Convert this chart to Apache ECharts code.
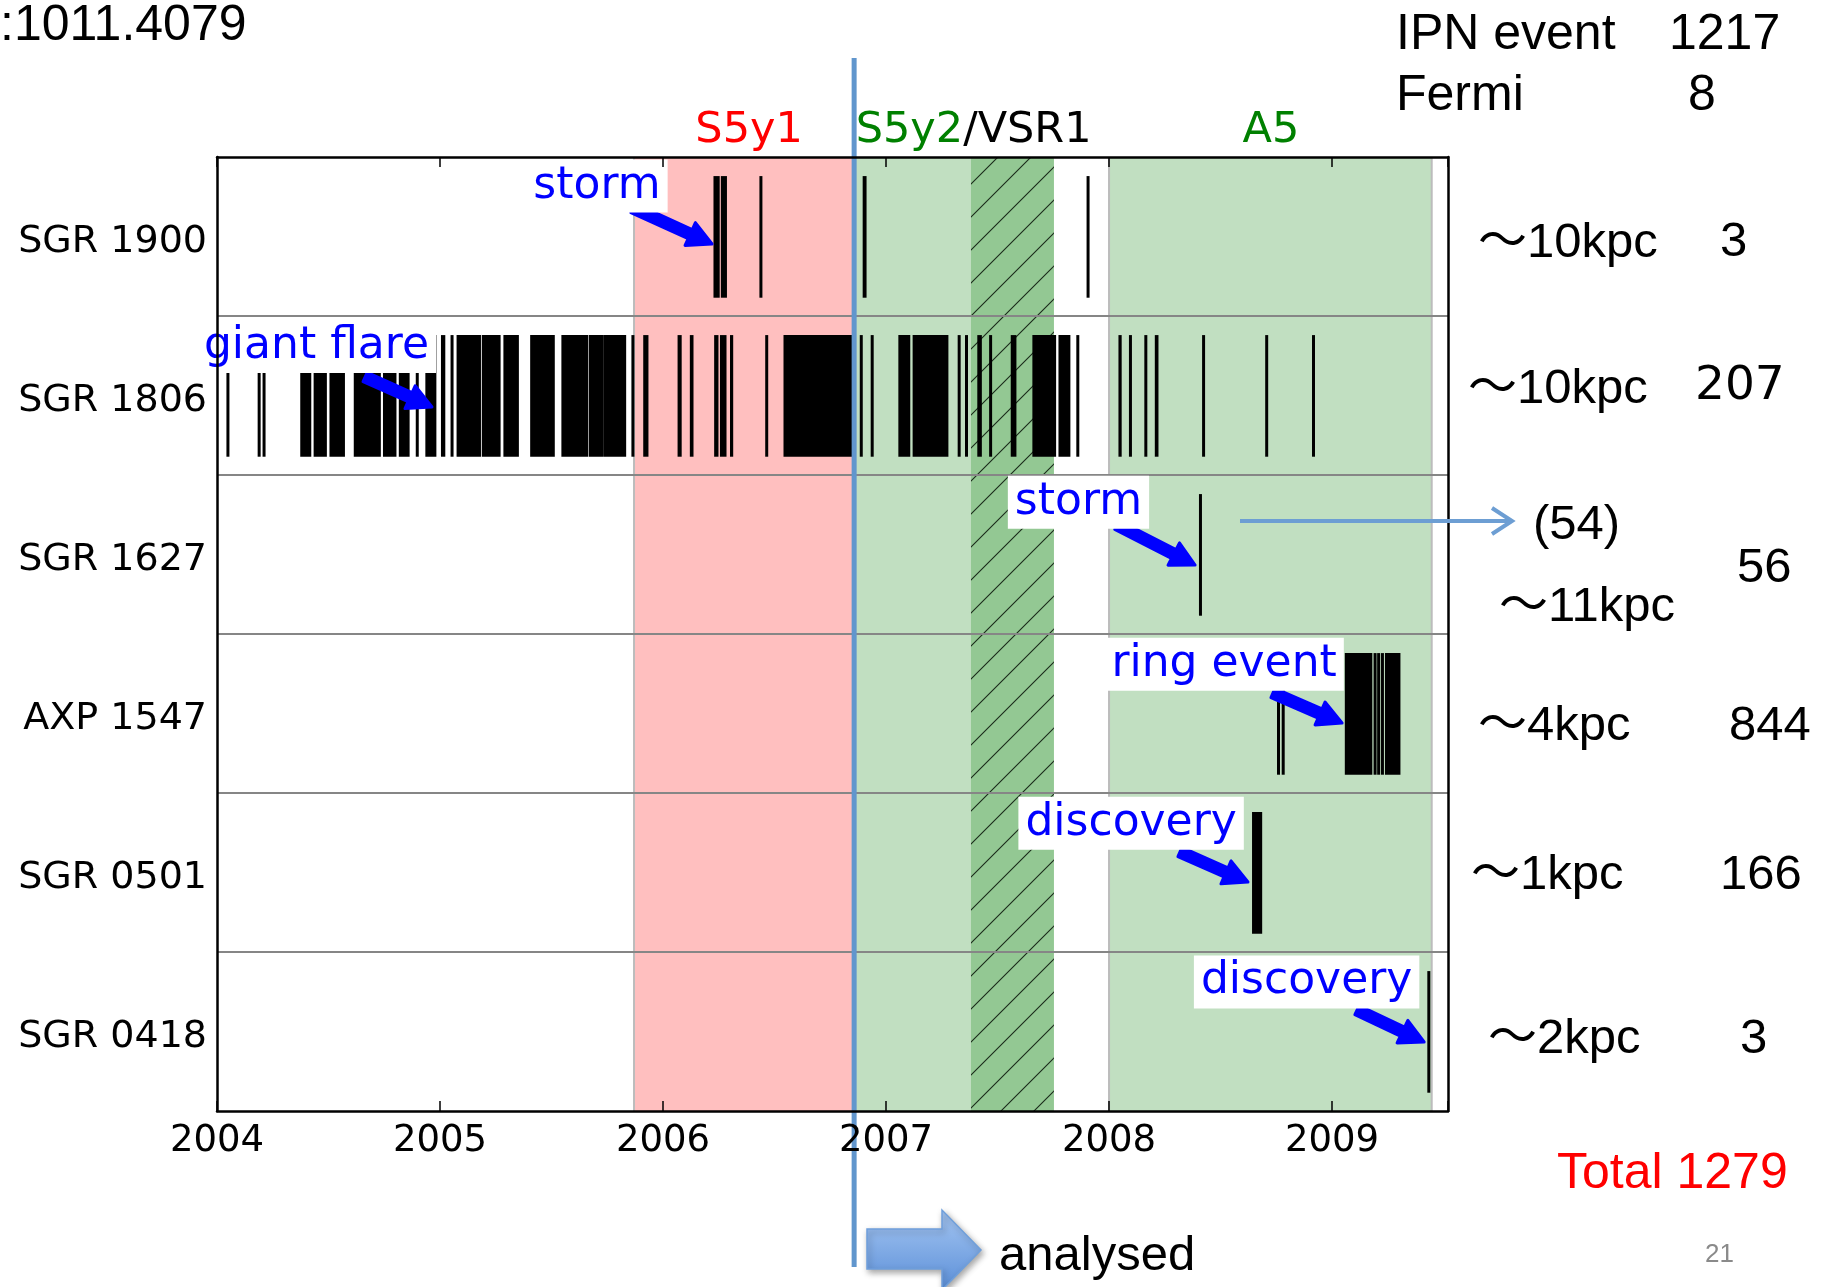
<!DOCTYPE html>
<html><head><meta charset="utf-8">
<script src="https://cdn.jsdelivr.net/npm/echarts@6/dist/echarts.min.js"></script>
<style>html,body{margin:0;padding:0;background:#fff;overflow:hidden}#c{width:1831px;height:1287px}</style>
</head><body><div id="c"></div><script>
// ---------------- data ----------------
const sources = ['SGR 1900', 'SGR 1806', 'SGR 1627', 'AXP 1547', 'SGR 0501', 'SGR 0418'];
const xMin = 2004, xMax = 2009.52, xInterval = 1;

// events: single year value = thin burst line, [start, end] = dense burst interval
const sgr1900Events = [[2006.233, 2006.2475], [2006.266, 2006.280], 2006.439, [2006.902, 2006.906], 2007.906];
const sgr1806Events = [
  2004.049, 2004.189, 2004.211,
  [2004.380, 2004.416], [2004.440, 2004.486], [2004.511, 2004.567],
  [2004.620, 2004.728], [2004.751, 2004.798], [2004.822, 2004.857],
  2004.898, [2004.941, 2004.977], [2005.011, 2005.017], 2005.054,
  [2005.081, 2005.177], [2005.194, 2005.265], [2005.291, 2005.347],
  [2005.411, 2005.508], [2005.551, 2005.658], [2005.674, 2005.728], [2005.742, 2005.828],
  2005.865, [2005.918, 2005.928], [2006.072, 2006.077], [2006.127, 2006.130],
  [2006.236, 2006.242], [2006.262, 2006.278], [2006.307, 2006.308], 2006.465,
  [2006.547, 2006.841], 2006.889, 2006.938,
  [2007.062, 2007.102], [2007.126, 2007.273], 2007.328, 2007.361,
  [2007.416, 2007.423], 2007.469, [2007.566, 2007.578],
  [2007.663, 2007.756], [2007.780, 2007.820], 2007.860,
  [2008.049, 2008.050], 2008.096, 2008.165, [2008.212, 2008.215],
  2008.424, 2008.707, 2008.917
];
const sgr1627Events = [2008.410];
const axp1547Events = [2008.760, 2008.781, [2009.064, 2009.174], 2009.193, 2009.209, 2009.226, [2009.244, 2009.300]];
const sgr0501Events = [[2008.648, 2008.680]];
const sgr0418Events = [2009.434];

// science runs
const spanNames = ['S5y1', 'S5y2', 'VSR1', 'A5'];
const spanStarts = [2005.870, 2006.866, 2007.381, 2008.000];
const spanEnds = [2006.866, 2007.381, 2007.753, 2009.447];
const periodLabels = ['S5y1', 'S5y2/VSR1', 'A5'];
const periodLabelYears = [2006.386, 2007.393, 2008.726];
const analysisStartYear = 2006.857;

// annotations
const annTexts = ['storm', 'giant flare', 'storm', 'ring event', 'discovery', 'discovery'];
const annTextYear = [2005.704, 2004.446, 2007.863, 2008.516, 2008.099, 2008.886];
const annTextRow = [0.183, 1.192, 2.172, 3.191, 4.191, 5.188];
const annTailYear = [2005.865, 2004.664, 2008.036, 2008.735, 2008.318, 2009.112];
const annTailRow = [0.321, 1.384, 2.314, 3.371, 4.371, 5.365];
const annTipYear = [2006.220, 2004.964, 2008.386, 2009.045, 2008.623, 2009.413];
const annTipRow = [0.547, 1.572, 2.566, 3.560, 4.560, 5.566];

// right-hand table
const distances = ['～10kpc', '～10kpc', '～11kpc', '～4kpc', '～1kpc', '～2kpc'];
const counts = ['3', '207', '56', '844', '166', '3'];
const stormCount = '(54)';
const ipnCount = '1217', fermiCount = '8', totalCount = '1279';
const arxivId = ':1011.4079';
const pageNumber = '21';

// ---------------- build ----------------
const allEvents = [sgr1900Events, sgr1806Events, sgr1627Events, axp1547Events, sgr0501Events, sgr0418Events];
const eventData = [];
allEvents.forEach((list, r) => list.forEach(e => {
  const a = Array.isArray(e) ? e[0] : e, b = Array.isArray(e) ? e[1] : e;
  eventData.push([a, b, r]);
}));
const spanData = spanNames.map((n, i) => [spanStarts[i], spanEnds[i], i]);
const annData = annTexts.map((t, i) => [annTextYear[i], annTextRow[i], annTailYear[i], annTailRow[i], annTipYear[i], annTipRow[i], i]);
const dividerData = [1, 2, 3, 4, 5].map(v => [xMin, v]);
const labelData = periodLabels.map((t, i) => [periodLabelYears[i], i]);

// hatch pattern
const hc = document.createElement('canvas');
hc.width = 33; hc.height = 33;
(function () {
  const g = hc.getContext('2d');
  g.fillStyle = '#93c893'; g.fillRect(0, 0, 33, 33);
  g.strokeStyle = '#1a2a1a'; g.lineWidth = 1.1;
  g.beginPath();
  g.moveTo(0, 33); g.lineTo(33, 0);
  g.moveTo(-2, 2); g.lineTo(2, -2);
  g.moveTo(31, 35); g.lineTo(35, 31);
  g.stroke();
})();

const spanFill = { S5y1: '#ffbfbf', S5y2: '#c1dfc1', VSR1: { image: hc, repeat: 'repeat' }, A5: '#c1dfc1' };
const spanEdge = { S5y1: true, S5y2: false, VSR1: false, A5: true };

const DJ = 'DejaVu Sans';
const LS = '"Liberation Sans", Arial, "Noto Sans CJK JP", sans-serif';

function arrowPoly(t, h, w, hw, hl) {
  const dx = h[0] - t[0], dy = h[1] - t[1], L = Math.hypot(dx, dy);
  const ux = dx / L, uy = dy / L, nx = -uy, ny = ux;
  const bx = h[0] - ux * hl, by = h[1] - uy * hl;
  return [[t[0] + nx * w / 2, t[1] + ny * w / 2], [bx + nx * w / 2, by + ny * w / 2], [bx + nx * hw / 2, by + ny * hw / 2],
    [h[0], h[1]], [bx - nx * hw / 2, by - ny * hw / 2], [bx - nx * w / 2, by - ny * w / 2], [t[0] - nx * w / 2, t[1] - ny * w / 2]];
}
function txt(x, y, text, font, fill) {
  return { type: 'text', x, y, z: 100, style: { text, font, fill: fill || '#000', textVerticalAlign: 'middle', verticalAlign: 'middle' } };
}

const chart = echarts.init(document.getElementById('c'), null, { renderer: 'canvas' });
const xAxisBase = {
  type: 'value', min: xMin, max: xMax, interval: xInterval, z: 10,
  axisLine: { show: true, onZero: false, lineStyle: { color: '#000', width: 2.5 } },
  axisTick: { show: true, inside: true, length: 10, lineStyle: { color: '#000', width: 1.5 } },
  splitLine: { show: false }
};
chart.setOption({
  animation: false,
  backgroundColor: '#fff',
  grid: { left: 217, top: 157, width: 1231, height: 954, containLabel: false },
  xAxis: [
    Object.assign({}, xAxisBase, {
      position: 'bottom',
      axisLabel: { show: true, fontFamily: DJ, fontSize: 37, color: '#000', margin: 11.5,
        formatter: v => (Math.abs(v - Math.round(v)) < 1e-6 ? String(Math.round(v)) : '') }
    }),
    Object.assign({}, xAxisBase, { position: 'top', axisLabel: { show: false } })
  ],
  yAxis: [
    { type: 'category', data: sources, inverse: true, position: 'left', z: 10,
      axisLine: { show: true, lineStyle: { color: '#000', width: 2.5 } },
      axisTick: { show: false }, splitLine: { show: false },
      axisLabel: { fontFamily: DJ, fontSize: 38, color: '#000', margin: 10,
        formatter: v => '{a|' + v + '}',
        rich: { a: { fontFamily: DJ, fontSize: 38, color: '#000', padding: [11, 0, 0, 0] } } } },
    { type: 'value', min: 0, max: 6, inverse: true, position: 'right', z: 10,
      axisLine: { show: true, lineStyle: { color: '#000', width: 2.5 } },
      axisTick: { show: false }, axisLabel: { show: false }, splitLine: { show: false } }
  ],
  series: [
    { // observing runs
      type: 'custom', name: 'runs', xAxisIndex: 0, yAxisIndex: 1, z: 1, silent: true,
      data: spanData,
      renderItem(params, api) {
        const name = spanNames[api.value(2)];
        const p0 = api.coord([api.value(0), 0]), p1 = api.coord([api.value(1), 6]);
        const x0 = Math.min(p0[0], p1[0]), y0 = Math.min(p0[1], p1[1]);
        const w = Math.abs(p1[0] - p0[0]), h = Math.abs(p1[1] - p0[1]);
        const children = [{ type: 'rect', shape: { x: x0, y: y0, width: w, height: h }, style: { fill: spanFill[name] } }];
        if (spanEdge[name]) {
          [x0, x0 + w].forEach(xx => children.push({ type: 'line', shape: { x1: xx, y1: y0, x2: xx, y2: y0 + h },
            style: { stroke: '#bcbcbc', lineWidth: 2 } }));
        }
        return { type: 'group', children };
      }
    },
    { // row dividers
      type: 'custom', name: 'dividers', xAxisIndex: 0, yAxisIndex: 1, z: 2, silent: true,
      data: dividerData,
      renderItem(params, api) {
        const a = api.coord([xMin, api.value(1)]), b = api.coord([xMax, api.value(1)]);
        return { type: 'line', shape: { x1: a[0], y1: a[1], x2: b[0], y2: b[1] }, style: { stroke: '#868686', lineWidth: 2 } };
      }
    },
    { // bursts
      type: 'custom', name: 'events', xAxisIndex: 0, yAxisIndex: 1, z: 3, silent: true,
      data: eventData,
      renderItem(params, api) {
        const r = api.value(2);
        const p0 = api.coord([api.value(0), r + 0.12]), p1 = api.coord([api.value(1), r + 0.885]);
        const y0 = Math.min(p0[1], p1[1]);
        return { type: 'rect', shape: { x: p0[0] - 1.5, y: y0, width: p1[0] - p0[0] + 3, height: Math.abs(p1[1] - p0[1]) },
          style: { fill: '#000' } };
      }
    },
    { // analysis start line
      type: 'custom', name: 'analysed', xAxisIndex: 0, yAxisIndex: 1, z: 6, silent: true, clip: false,
      data: [[analysisStartYear, 0]],
      renderItem(params, api) {
        const cs = params.coordSys;
        const p = api.coord([api.value(0), 0]);
        return { type: 'line', shape: { x1: p[0], y1: cs.y - 99, x2: p[0], y2: cs.y + cs.height + 156 },
          style: { stroke: '#6196cd', lineWidth: 5 } };
      }
    },
    { // annotations
      type: 'custom', name: 'annotations', xAxisIndex: 0, yAxisIndex: 1, z: 5, silent: true, clip: false,
      data: annData,
      renderItem(params, api) {
        const tp = api.coord([api.value(0), api.value(1)]);
        const tail = api.coord([api.value(2), api.value(3)]);
        const tip = api.coord([api.value(4), api.value(5)]);
        const i = api.value(6);
        return { type: 'group', children: [
          { type: 'polygon', shape: { points: arrowPoly(tail, tip, 10, 25, 24) },
            style: { fill: '#0000ff', stroke: '#0000ff', lineWidth: 3, lineJoin: 'round' } },
          { type: 'text', x: tp[0], y: tp[1],
            style: { text: annTexts[i], fill: '#0000ff', font: '44px "DejaVu Sans"', align: 'center', verticalAlign: 'middle',
              textAlign: 'center', textVerticalAlign: 'middle', backgroundColor: '#ffffff', padding: [3, 7, 4, 7], lineHeight: 46 } }
        ] };
      }
    },
    { // run labels above the frame
      type: 'custom', name: 'runLabels', xAxisIndex: 0, yAxisIndex: 1, z: 5, silent: true, clip: false,
      data: labelData,
      renderItem(params, api) {
        const cs = params.coordSys;
        const p = api.coord([api.value(0), 0]);
        const i = api.value(1);
        const t = periodLabels[i];
        let text = t, rich = null, fill = '#ff0000';
        if (t.indexOf('/') >= 0) {
          const parts = t.split('/');
          text = '{g|' + parts[0] + '}{k|/' + parts[1] + '}';
          rich = { g: { fill: '#008000', font: '43px "DejaVu Sans"' }, k: { fill: '#000000', font: '43px "DejaVu Sans"' } };
        } else if (t === 'A5') fill = '#008000';
        const style = { text, fill, font: '43px "DejaVu Sans"', align: 'center', verticalAlign: 'middle',
          textAlign: 'center', textVerticalAlign: 'middle' };
        if (rich) style.rich = rich;
        return { type: 'text', x: p[0], y: cs.y - 26, style };
      }
    }
  ],
  graphic: [
    txt(0, 26, arxivId, '50px ' + LS),
    txt(1396, 35, 'IPN event', '50px ' + LS),
    txt(1669, 35, ipnCount, '50px ' + LS),
    txt(1396, 96, 'Fermi', '50px ' + LS),
    txt(1688, 96, fermiCount, '50px ' + LS)
  ].concat(
    distances.map((d, r) => txt([1478, 1468, 1499, 1478, 1471, 1488][r], [243, 389, 607, 726, 875, 1039][r], d, '49px ' + LS)),
    counts.map((c, r) => r === 1
      ? txt(1695, 387, c, '47px "DejaVu Sans"')
      : txt([1720, 0, 1737, 1729, 1720, 1740][r], [242, 0, 568, 726, 875, 1039][r], c, '49px ' + LS)),
    [
      txt(1533, 525, stormCount, '49px ' + LS),
      { type: 'line', z: 100, shape: { x1: 1240, y1: 521, x2: 1510, y2: 521 }, style: { stroke: '#6d9ed3', lineWidth: 4 } },
      { type: 'polyline', z: 100, shape: { points: [[1492, 508], [1512, 521], [1492, 534]] }, style: { stroke: '#6d9ed3', lineWidth: 4, fill: null } },
      txt(1557, 1174, 'Total ' + totalCount, '50px ' + LS, '#ff0000'),
      txt(1705, 1255, pageNumber, '26px ' + LS, '#8a8a8a'),
      { type: 'polygon', z: 100, shape: { points: [[867, 1229], [942, 1229], [942, 1210], [981, 1250], [942, 1290], [942, 1269], [867, 1269]] },
        style: { fill: new echarts.graphic.LinearGradient(0, 0, 0, 1, [{ offset: 0, color: '#a5c6f2' }, { offset: 1, color: '#5b8fd8' }]),
          stroke: '#6f9fdb', lineWidth: 1.5, shadowBlur: 6, shadowOffsetX: 2, shadowOffsetY: 3, shadowColor: 'rgba(0,0,0,0.35)' } },
      txt(999, 1256, 'analysed', '49px ' + LS)
    ]
  )
});
</script></body></html>
